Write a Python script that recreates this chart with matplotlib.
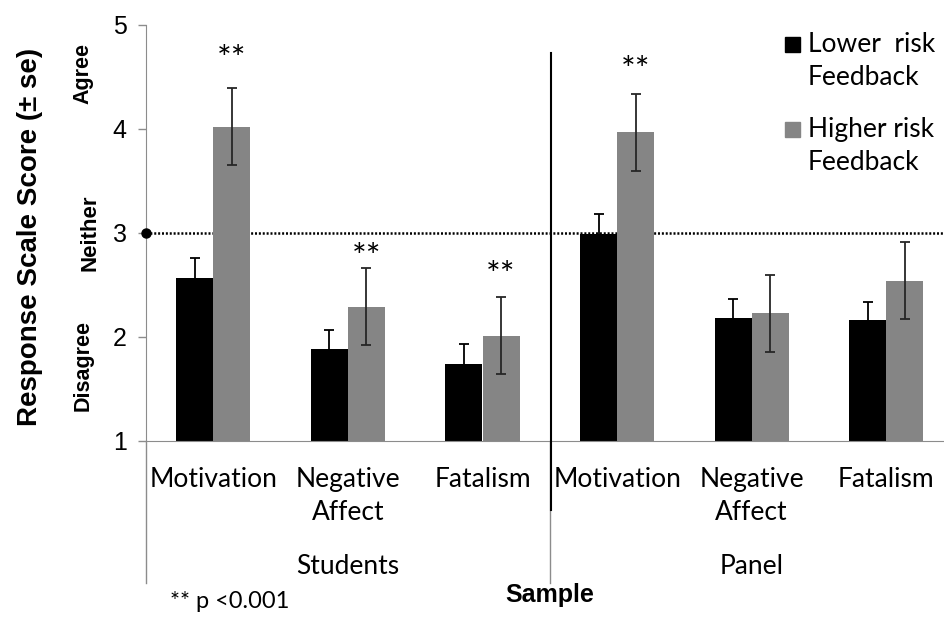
import matplotlib
matplotlib.use('Agg')
import matplotlib.pyplot as plt
import matplotlib.transforms as mtransforms
from matplotlib.patches import Rectangle
import numpy as np

# Response scale scores by feedback group
measures = ["Motivation", "Negative\nAffect", "Fatalism", "Motivation", "Negative\nAffect", "Fatalism"]
samples = ["Students", "Panel"]
lower_means = [2.57, 1.88, 1.74, 2.99, 2.18, 2.16]
lower_se = [0.19, 0.19, 0.19, 0.19, 0.19, 0.18]
higher_means = [4.02, 2.29, 2.01, 3.97, 2.23, 2.54]
higher_se = [0.37, 0.37, 0.37, 0.37, 0.37, 0.37]
significant = [True, True, True, True, False, False]
star_heights = [4.66, 2.76, 2.59, 4.56]

W, H = 944, 619
fig = plt.figure(figsize=(W / 100, H / 100), dpi=100)
fig.patch.set_facecolor("white")

def px(x, y):
    return x / W, 1 - y / H

ax = fig.add_axes([146 / W, 1 - 441 / H, 807.6 / W, 416 / H])

body = ["Lato", "DejaVu Sans"]
arial = ["Liberation Sans", "DejaVu Sans"]
axis_grey = "#8c8c8c"

x = np.arange(len(measures)) + 0.5
w = 0.275
ax.bar(x - w / 2, lower_means, w, color="black", zorder=2)
ax.bar(x + w / 2, higher_means, w, color="#858585", zorder=2)
ax.errorbar(x - w / 2, lower_means, yerr=lower_se, fmt="none", ecolor="black",
            elinewidth=1.3, capsize=3.5, capthick=1.3, zorder=3)
ax.errorbar(x + w / 2, higher_means, yerr=higher_se, fmt="none", ecolor="#262626",
            elinewidth=1.3, capsize=3.5, capthick=1.3, zorder=3)

# significance stars over the higher risk bars
star_x = [xi + w / 2 for xi, s in zip(x, significant) if s]
for sx, sy in zip(star_x, star_heights):
    ax.text(sx, sy, "**", ha="center", va="center", fontsize=25, family=body)

# neutral reference line
ax.axhline(3, color="black", lw=1.8, linestyle=(0, (0.8, 0.75)), zorder=1)
ax.plot([0], [3], "o", color="black", ms=6.5, clip_on=False, zorder=4)

ax.set_xlim(0, 6)
ax.set_ylim(1, 5)
ax.set_yticks([1, 2, 3, 4, 5])
ax.set_yticklabels(["1", "2", "3", "4", "5"], fontsize=18, family=arial)
ax.tick_params(axis="y", length=6, width=1, color=axis_grey, pad=8)
ax.set_xticks([])
for side in ["top", "right"]:
    ax.spines[side].set_visible(False)
ax.spines["left"].set_color(axis_grey)
ax.spines["bottom"].set_color(axis_grey)

# two level category axis
trans = mtransforms.blended_transform_factory(ax.transData, ax.transAxes)
drop = -(583 - 441) / 416
for sep in [0, 3, 6]:
    ax.plot([sep, sep], [0, drop], color=axis_grey, lw=1, transform=trans, clip_on=False)
for xi, label in zip(x, measures):
    ax.text(xi, -(467 - 441) / 416, label, ha="center", va="top", fontsize=19,
            family=body, linespacing=1.42, transform=trans)
for i, s in enumerate(samples):
    ax.text(1.5 + 3 * i, -(567 - 441) / 416, s, ha="center", va="center",
            fontsize=19, family=body, transform=trans)

# divider between the two samples
ax.plot([3.012, 3.012], [4.73, 0.337], color="black", lw=1.5, clip_on=False, zorder=4)

# axis titles and scale anchors
fig.text(*px(30, 237), "Response Scale Score (± se)", rotation=90, ha="center",
         va="center", fontsize=20, fontweight="bold", family=arial)
fig.text(*px(550, 595), "Sample", ha="center", va="center", fontsize=18,
         fontweight="bold", family=arial)
fig.text(*px(170, 602), "** p <0.001", ha="left", va="center", fontsize=17, family=body)

anchor = mtransforms.blended_transform_factory(fig.transFigure, ax.transData)
for lab, xp, yv, fs in [("Agree", 83, 4.53, 15.5), ("Neither", 90, 3.0, 16),
                        ("Disagree", 83, 1.73, 15.5)]:
    ax.text(xp / W, yv, lab, rotation=90, ha="center", va="center", fontsize=fs,
            fontweight="bold", family=arial, transform=anchor, clip_on=False)

# legend
legend_items = [("black", "Lower  risk\nFeedback", 37), ("#858585", "Higher risk\nFeedback", 122)]
for col, lab, top in legend_items:
    fig.patches.append(Rectangle(px(785, top + 15), 15 / W, 15 / H, color=col,
                                 transform=fig.transFigure))
    fig.text(*px(808, top + 24), lab, ha="left", va="center", fontsize=19,
             family=body, linespacing=1.42)

fig.savefig("out.png", dpi=100)
